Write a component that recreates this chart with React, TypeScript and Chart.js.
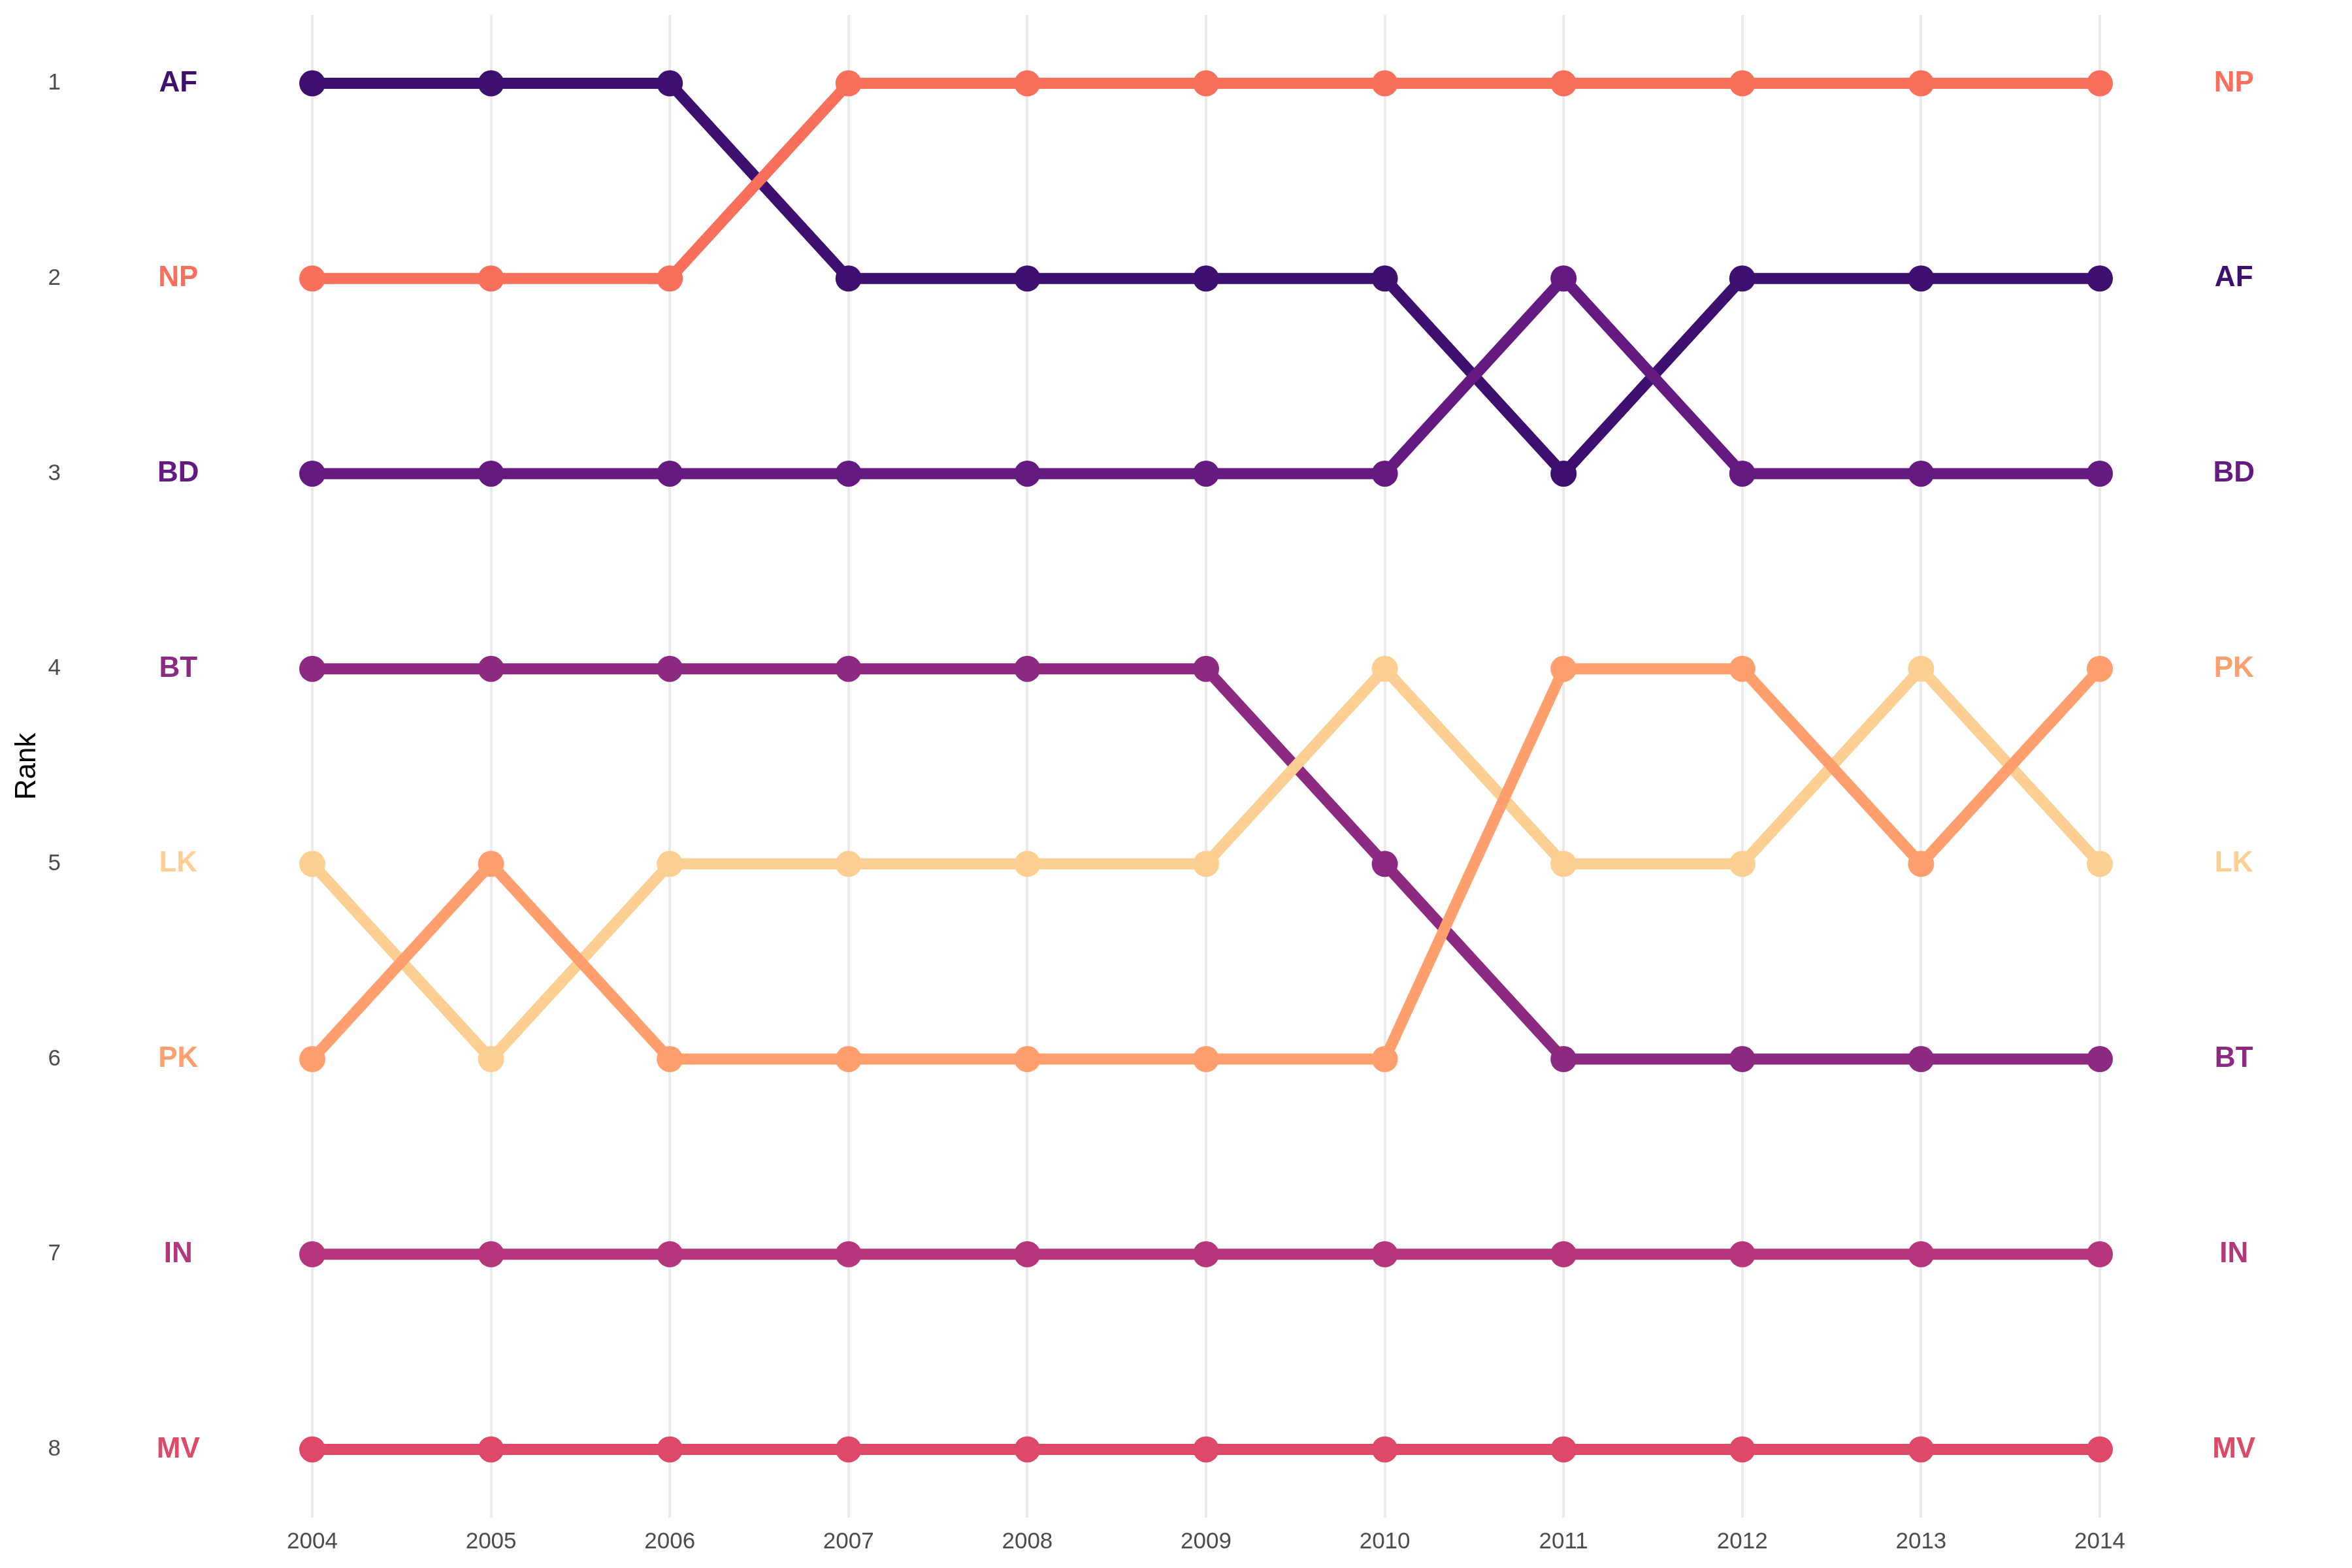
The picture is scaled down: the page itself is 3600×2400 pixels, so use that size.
import React, { useEffect, useRef } from "react";
import { Chart, registerables } from "chart.js";

Chart.register(...registerables);

const years = [2004, 2005, 2006, 2007, 2008, 2009, 2010, 2011, 2012, 2013, 2014];
const countries = ["AF", "BD", "BT", "IN", "LK", "MV", "NP", "PK"];
const colors = ["#3d1070", "#641a80", "#8c2981", "#b5367a", "#fecf92", "#de4968", "#f8705c", "#fe9f6d"];
const rankAF = [1, 1, 1, 2, 2, 2, 2, 3, 2, 2, 2];
const rankBD = [3, 3, 3, 3, 3, 3, 3, 2, 3, 3, 3];
const rankBT = [4, 4, 4, 4, 4, 4, 5, 6, 6, 6, 6];
const rankIN = [7, 7, 7, 7, 7, 7, 7, 7, 7, 7, 7];
const rankLK = [5, 6, 5, 5, 5, 5, 4, 5, 5, 4, 5];
const rankMV = [8, 8, 8, 8, 8, 8, 8, 8, 8, 8, 8];
const rankNP = [2, 2, 2, 1, 1, 1, 1, 1, 1, 1, 1];
const rankPK = [6, 5, 6, 6, 6, 6, 6, 4, 4, 5, 4];
const ranks = [rankAF, rankBD, rankBT, rankIN, rankLK, rankMV, rankNP, rankPK];
const rankTicks = [1, 2, 3, 4, 5, 6, 7, 8];

const FONT = "'Liberation Sans', Arial, Helvetica, sans-serif";

const endLabels = {
  id: "endLabels",
  afterDatasetsDraw(chart: any) {
    const ctx = chart.ctx;
    const xs = chart.scales.x;
    const ys = chart.scales.y;
    ctx.save();
    ctx.font = `bold 44px ${FONT}`;
    ctx.textAlign = "center";
    ctx.textBaseline = "middle";
    countries.forEach((c, i) => {
      const r = ranks[i];
      ctx.fillStyle = colors[i];
      ctx.fillText(c, xs.getPixelForValue(years[0] - 0.75), ys.getPixelForValue(r[0]));
      ctx.fillText(c, xs.getPixelForValue(years[years.length - 1] + 0.75), ys.getPixelForValue(r[r.length - 1]));
    });
    ctx.restore();
  },
};

export default function App() {
  const ref = useRef<HTMLCanvasElement | null>(null);
  useEffect(() => {
    if (!ref.current) return;
    const chart = new Chart(ref.current, {
      type: "line",
      data: {
        datasets: countries.map((c, i) => ({
          label: c,
          data: years.map((y, j) => ({ x: y, y: ranks[i][j] })),
          borderColor: colors[i],
          backgroundColor: colors[i],
          borderWidth: 17,
          pointRadius: 20,
          pointHoverRadius: 20,
          pointBorderWidth: 0,
          tension: 0,
          order: 10 - i,
        })),
      },
      options: {
        animation: false,
        responsive: false,
        maintainAspectRatio: false,
        layout: { padding: { top: 23, right: 44, left: 0, bottom: 0 } },
        plugins: { legend: { display: false }, tooltip: { enabled: false } },
        scales: {
          x: {
            type: "linear",
            min: 2002.75,
            max: 2015.25,
            border: { display: false },
            grid: { color: "#ebebeb", lineWidth: 4, drawTicks: false },
            afterBuildTicks: (s: any) => {
              s.ticks = years.map((v) => ({ value: v }));
            },
            afterFit: (s: any) => {
              s.height = 77;
              s.paddingLeft = 0;
              s.paddingRight = 0;
            },
            ticks: {
              padding: 16,
              color: "#4d4d4d",
              font: { family: FONT, size: 35 },
              maxRotation: 0,
              autoSkip: false,
              callback: (v: any) => String(v),
            },
          },
          y: {
            type: "linear",
            reverse: true,
            min: 0.65,
            max: 8.35,
            border: { display: false },
            grid: { display: false, drawTicks: false },
            afterBuildTicks: (s: any) => {
              s.ticks = rankTicks.map((v) => ({ value: v }));
            },
            afterFit: (s: any) => {
              s.width = 136;
              s.paddingTop = 0;
              s.paddingBottom = 0;
            },
            ticks: {
              padding: 43,
              color: "#4d4d4d",
              font: { family: FONT, size: 35 },
              callback: (v: any) => String(v),
            },
            title: {
              display: true,
              text: "Rank",
              color: "#000000",
              font: { family: FONT, size: 44 },
              padding: { top: 15, bottom: 0 },
            },
          },
        },
      },
      plugins: [endLabels],
    });
    return () => chart.destroy();
  }, []);
  return (
    <div style={{ position: "fixed", left: 0, top: 0, width: 3600, height: 2400, background: "#ffffff" }}>
      <canvas ref={ref} width={3600} height={2400} style={{ width: 3600, height: 2400 }} />
    </div>
  );
}
